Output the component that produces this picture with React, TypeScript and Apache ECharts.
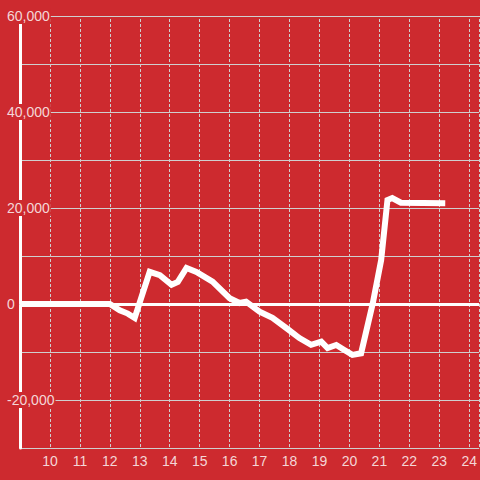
import React, { useEffect, useRef } from "react";
import * as echarts from "echarts";

const hours: number[] = [
  9, 10, 11, 11.83, 12.0, 12.33, 12.6, 12.83, 13.33, 13.67, 14.06, 14.27, 14.56, 14.89, 15.43,
  16.0, 16.33, 16.55, 17.0, 17.43, 17.89, 18.33, 18.72, 19.06, 19.27, 19.56, 19.83, 20.1, 20.39,
  20.78, 21.06, 21.27, 21.43, 21.72, 23.2,
];
const values: number[] = [
  0, 0, 0, 0, 0, -1300, -2000, -2900, 6700, 6000, 4000, 4600, 7500, 6700, 4650,
  1200, 200, 500, -1600, -2900, -5000, -7100, -8500, -7850, -9170, -8540, -9580, -10600, -10270,
  150, 9170, 21670, 22080, 21100, 21000,
];
const xTickLabels: number[] = [10, 11, 12, 13, 14, 15, 16, 17, 18, 19, 20, 21, 22, 23, 24];
const yTickLabels: number[] = [-20000, 0, 20000, 40000, 60000];

const BG = "#cd2a2f";
const TEXT = "#f4d6d7";
const GRID = "#cfcfcf";
const FONT = "Liberation Sans";

export default function App() {
  const ref = useRef<HTMLDivElement>(null);
  useEffect(() => {
    if (!ref.current) return;
    const chart = echarts.init(ref.current, undefined, { renderer: "svg" });
    const data = hours.map((h, i) => [h, values[i]]);
    chart.setOption({
      animation: false,
      backgroundColor: BG,
      grid: { left: 20, right: 0, top: 16, bottom: 32, containLabel: false },
      xAxis: {
        type: "value",
        min: 9,
        max: 24 + 1 / 3,
        interval: 1,
        axisLine: { show: true, lineStyle: { color: GRID, width: 1 } },
        axisTick: { show: false },
        axisLabel: {
          show: true,
          color: TEXT,
          fontFamily: FONT,
          fontSize: 14,
          margin: 6,
          showMinLabel: false,
          showMaxLabel: false,
          formatter: (v: number) => (xTickLabels.includes(v) ? String(v) : ""),
        },
        splitLine: {
          show: true,
          lineStyle: { color: GRID, width: 1, type: [3, 2], dashOffset: 2 },
        },
      },
      yAxis: {
        type: "value",
        min: -30000,
        max: 60000,
        interval: 10000,
        axisLine: { show: true, onZero: false, lineStyle: { color: "#ffffff", width: 3 } },
        axisTick: { show: false },
        axisLabel: {
          show: true,
          color: TEXT,
          fontFamily: FONT,
          fontSize: 14,
          align: "left",
          margin: 13,
          backgroundColor: BG,
          padding: [1, 1, 1, 0],
          formatter: (v: number) =>
            yTickLabels.includes(v) ? v.toLocaleString("en-US") : "",
        },
        splitLine: { show: true, lineStyle: { color: GRID, width: 1, type: "solid" } },
      },
      series: [
        {
          type: "line",
          data,
          showSymbol: false,
          symbol: "none",
          lineStyle: { color: "#ffffff", width: 6, cap: "butt", join: "miter" },
          z: 3,
          markLine: {
            silent: true,
            symbol: "none",
            label: { show: false },
            lineStyle: { color: "#ffffff", width: 3, type: "solid" },
            data: [{ yAxis: 0 }],
          },
        },
      ],
    });
    return () => chart.dispose();
  }, []);
  return (
    <div
      ref={ref}
      style={{ position: "fixed", left: 0, top: 0, width: 480, height: 480 }}
    />
  );
}
